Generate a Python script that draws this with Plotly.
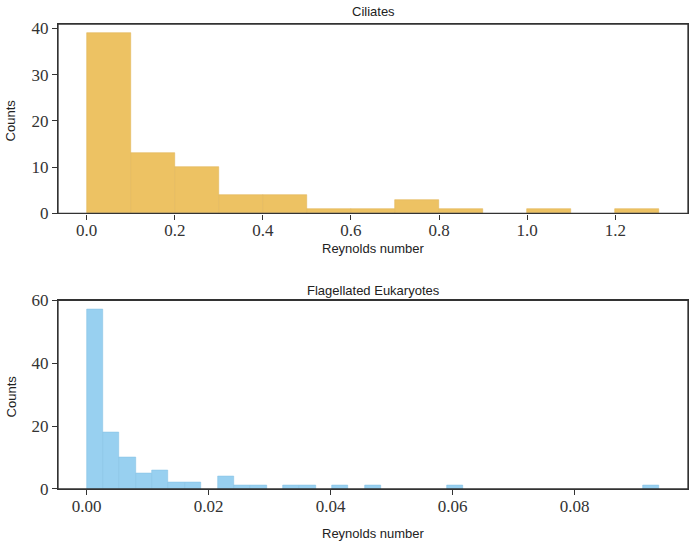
import numpy as np
import plotly.graph_objects as go
from plotly.subplots import make_subplots

# Ciliates histogram (bin edges and counts)
cil_edges = [0.0, 0.1, 0.2, 0.3, 0.4, 0.5, 0.6, 0.7, 0.8, 0.9, 1.0, 1.1, 1.2, 1.3]
cil_counts = [39, 13, 10, 4, 4, 1, 1, 3, 1, 0, 1, 0, 1]

# Flagellated eukaryotes histogram (35 bins from 0 to ~0.0939)
flag_min = 0.0
flag_max = 0.0939
flag_nbins = 35
flag_counts = [57, 18, 10, 5, 6, 2, 2, 0, 4, 1, 1, 0, 1, 1, 0, 1, 0, 1,
               0, 0, 0, 0, 1, 0, 0, 0, 0, 0, 0, 0, 0, 0, 0, 0, 1]

cil_x_ticks = [0.0, 0.2, 0.4, 0.6, 0.8, 1.0, 1.2]
cil_y_ticks = [0, 10, 20, 30, 40]
flag_x_ticks = [0.0, 0.02, 0.04, 0.06, 0.08]
flag_y_ticks = [0, 20, 40, 60]

flag_edges = np.linspace(flag_min, flag_max, flag_nbins + 1)
cil_e = np.array(cil_edges)

def nz(counts):
    # empty bins are not drawn (avoid edge artefacts on the baseline)
    return [c if c else None for c in counts]

fig = make_subplots(rows=2, cols=1, vertical_spacing=0.19)

fig.add_trace(go.Bar(
    x=(cil_e[:-1] + cil_e[1:]) / 2, y=nz(cil_counts), width=np.diff(cil_e),
    marker=dict(color="#EDC263", line=dict(color="#E3B759", width=0.6)),
    showlegend=False), row=1, col=1)

fig.add_trace(go.Bar(
    x=(flag_edges[:-1] + flag_edges[1:]) / 2, y=nz(flag_counts), width=np.diff(flag_edges),
    marker=dict(color="#98D0F0", line=dict(color="#88C3E6", width=0.6)),
    showlegend=False), row=2, col=1)

axis_common = dict(
    showline=True, linecolor="#333333", linewidth=1.3, mirror=True,
    ticks="outside", ticklen=5, tickwidth=1.2, tickcolor="#333333",
    showgrid=False, zeroline=False, automargin=False,
    tickfont=dict(family="Liberation Serif", size=17, color="#333333"),
)

cr = cil_edges[-1] - cil_edges[0]
fig.update_xaxes(**axis_common, range=[cil_edges[0] - 0.05 * cr, cil_edges[-1] + 0.05 * cr],
                 tickvals=cil_x_ticks, ticktext=[f"{v:.1f}" for v in cil_x_ticks],
                 ticklabelstandoff=-4, row=1, col=1)
fr = flag_max - flag_min
fig.update_xaxes(**axis_common, range=[flag_min - 0.05 * fr, flag_max + 0.05 * fr],
                 tickvals=flag_x_ticks, ticktext=[f"{v:.2f}" for v in flag_x_ticks],
                 ticklabelstandoff=-4, row=2, col=1)
fig.update_yaxes(**axis_common, range=[0, max(cil_counts) * 1.05], tickvals=cil_y_ticks,
                 row=1, col=1)
fig.update_yaxes(**axis_common, range=[0, 60], tickvals=flag_y_ticks,
                 row=2, col=1)

# frame boxes
for xr, yr in (("x domain", "y domain"), ("x2 domain", "y2 domain")):
    fig.add_shape(type="rect", xref=xr, yref=yr, x0=0, x1=1, y0=0, y1=1,
                  line=dict(color="#333333", width=1.3), fillcolor="rgba(0,0,0,0)")

TOP, BOT = 24, 489
def py(pix):
    return (BOT - pix) / (BOT - TOP)

sans = dict(family="Liberation Sans", size=13, color="#222222")
ann = [
    dict(text="Ciliates", x=0.5, y=py(12)),
    dict(text="Flagellated Eukaryotes", x=0.5, y=py(290)),
    dict(text="Reynolds number", x=0.5, y=py(248)),
    dict(text="Reynolds number", x=0.5, y=py(533)),
]
annotations = [dict(a, xref="paper", yref="paper", xanchor="center", yanchor="middle",
                    showarrow=False, font=sans) for a in ann]
for yc in (py(120), py(396)):
    annotations.append(dict(text="Counts", x=-0.074, y=yc, xref="paper", yref="paper",
                            xanchor="center", yanchor="middle", textangle=-90,
                            showarrow=False, font=sans))

fig.update_layout(
    width=691, height=546,
    margin=dict(l=58, r=3, t=TOP, b=546 - BOT),
    plot_bgcolor="white", paper_bgcolor="white",
    bargap=0,
    yaxis=dict(domain=[0.5927, 1.0]),
    yaxis2=dict(domain=[0.0, 0.4056]),
    annotations=annotations,
)

fig.write_html("out.html", config={"displayModeBar": False},
               post_script="document.body.style.margin='0px';document.body.style.overflow='hidden';")
